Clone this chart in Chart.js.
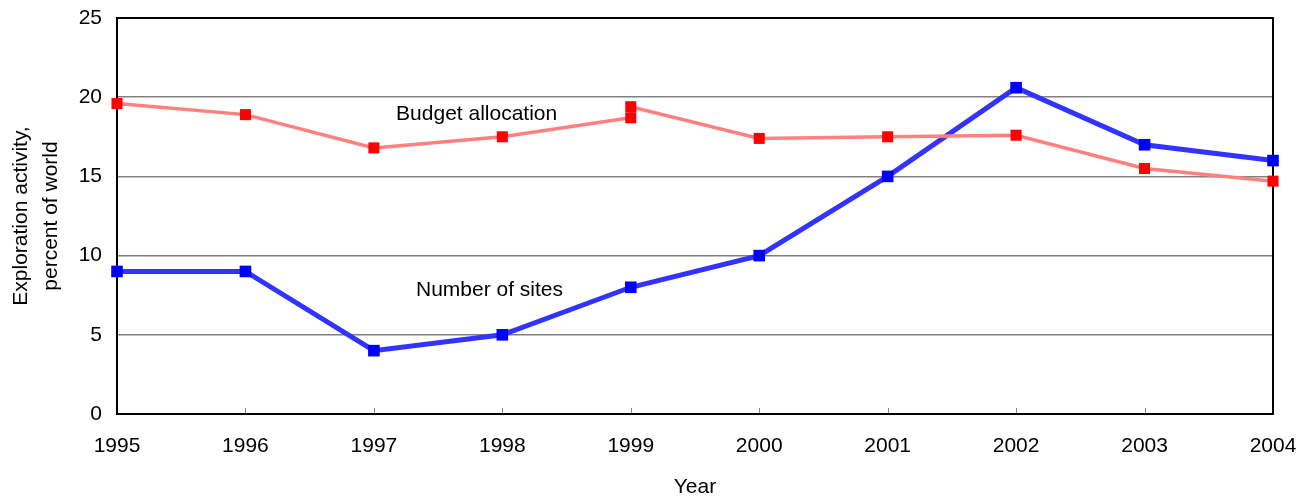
<!DOCTYPE html>
<html>
<head>
<meta charset="utf-8">
<script src="https://cdn.jsdelivr.net/npm/chart.js@4/dist/chart.umd.min.js"></script>
<style>
  html, body { margin: 0; padding: 0; background: #fff; }
  #wrap { width: 1309px; height: 504px; }
</style>
</head>
<body>
<div id="wrap"><canvas id="chart" width="1309" height="504"></canvas></div>
<script>
const years = [1995, 1996, 1997, 1998, 1999, 2000, 2001, 2002, 2003, 2004];
const sitesValues = [9, 9, 4, 5, 8, 10, 15, 20.6, 17, 16];
// 1999 has two budget readings in the source
const budgetYears = [1995, 1996, 1997, 1998, 1999, 1999, 2000, 2001, 2002, 2003, 2004];
const budgetValues = [19.6, 18.9, 16.8, 17.5, 18.7, 19.4, 17.4, 17.5, 17.6, 15.5, 14.7];
const yTicks = [0, 5, 10, 15, 20, 25];
const seriesLabels = [
    {text: 'Budget allocation', x: 1997.8, y: 18.9},
    {text: 'Number of sites', x: 1997.9, y: 7.8}
];

const FONT = '"Liberation Sans", Arial, sans-serif';

function toPoints(xs, ys){
    return xs.map(function(x, i){ return {x: x, y: ys[i]}; });
}

const framePlugin = {
    id: 'frame',
    beforeDatasetsDraw(chart){
        const ctx = chart.ctx;
        const a = chart.chartArea;
        const xs = chart.scales.x;
        ctx.save();
        // small inner ticks on the x axis
        ctx.strokeStyle = '#808080';
        ctx.lineWidth = 1;
        years.forEach(function(y){
            const px = Math.round(xs.getPixelForValue(y)) + 0.5;
            ctx.beginPath();
            ctx.moveTo(px, a.bottom);
            ctx.lineTo(px, a.bottom - 6);
            ctx.stroke();
        });
        ctx.strokeStyle = '#000';
        ctx.lineWidth = 2;
        ctx.strokeRect(a.left, a.top, a.right - a.left, a.bottom - a.top);
        ctx.restore();
    },
    afterDatasetsDraw(chart){
        const ctx = chart.ctx;
        ctx.save();
        ctx.fillStyle = '#000';
        ctx.font = '21px ' + FONT;
        ctx.textAlign = 'center';
        ctx.textBaseline = 'middle';
        seriesLabels.forEach(function(l){
            ctx.fillText(l.text, chart.scales.x.getPixelForValue(l.x), chart.scales.y.getPixelForValue(l.y));
        });
        ctx.restore();
    }
};

new Chart(document.getElementById('chart'), {
    type: 'line',
    data: {
        datasets: [{
            label: 'Budget allocation',
            data: toPoints(budgetYears, budgetValues),
            borderColor: 'rgb(255, 128, 128)',
            borderWidth: 3.5,
            pointStyle: 'rect',
            pointRadius: 7.8,
            pointBackgroundColor: '#ff0000',
            pointBorderWidth: 0,
            tension: 0,
            clip: false
        }, {
            label: 'Number of sites',
            data: toPoints(years, sitesValues),
            borderColor: 'rgb(51, 51, 255)',
            borderWidth: 5,
            pointStyle: 'rect',
            pointRadius: 8.2,
            pointBackgroundColor: '#0000ff',
            pointBorderWidth: 0,
            tension: 0,
            clip: false
        }]
    },
    options: {
        responsive: false,
        animation: false,
        layout: {padding: {top: 18, right: 36, left: 0, bottom: 0}},
        plugins: {
            legend: {display: false},
            tooltip: {enabled: false}
        },
        scales: {
            x: {
                type: 'linear',
                min: 1995,
                max: 2004,
                afterFit: function(s){
                    s.height = 90;
                    s.paddingLeft = 0;
                    s.paddingRight = 0;
                },
                afterBuildTicks: function(s){ s.ticks = years.map(function(v){ return {value: v}; }); },
                grid: {display: false, drawTicks: false},
                border: {display: false},
                ticks: {
                    color: '#000',
                    font: {family: FONT, size: 21},
                    padding: 20,
                    maxRotation: 0,
                    callback: function(v){ return String(v); }
                },
                title: {
                    display: true,
                    text: 'Year',
                    color: '#000',
                    font: {family: FONT, size: 21},
                    padding: {top: 14}
                }
            },
            y: {
                min: 0,
                max: 25,
                afterFit: function(s){
                    s.width = 117;
                    s.paddingTop = 0;
                    s.paddingBottom = 0;
                },
                afterBuildTicks: function(s){ s.ticks = yTicks.map(function(v){ return {value: v}; }); },
                grid: {
                    drawTicks: false,
                    color: function(c){ return (c.tick.value === 0 || c.tick.value === 25) ? 'rgba(0,0,0,0)' : '#808080'; },
                    lineWidth: 1.5
                },
                border: {display: false},
                ticks: {
                    color: '#000',
                    font: {family: FONT, size: 21},
                    padding: 15
                },
                title: {
                    display: true,
                    text: ['Exploration activity,', 'percent of world'],
                    color: '#000',
                    font: {family: FONT, size: 21, lineHeight: 1.45},
                    padding: {top: 6, bottom: 8}
                }
            }
        }
    },
    plugins: [framePlugin]
});
</script>
</body>
</html>
